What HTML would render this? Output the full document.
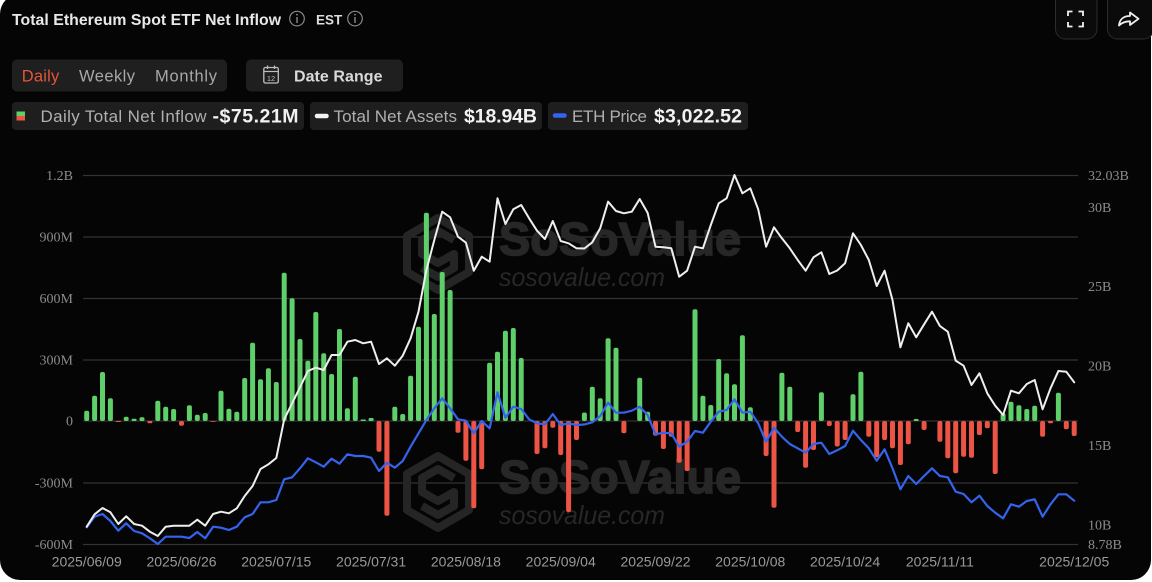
<!DOCTYPE html>
<html><head><meta charset="utf-8"><style>
html,body{margin:0;padding:0;background:#fff;width:1152px;height:582px;overflow:hidden}
svg{display:block}
</style></head><body>
<svg width="1152" height="582" viewBox="0 0 1152 582" xmlns="http://www.w3.org/2000/svg">
<rect x="0" y="0" width="1152" height="582" fill="#fff"/>
<rect x="0" y="-6" width="1151" height="586" rx="20" ry="20" fill="#050505"/>

<!-- header -->
<text x="12" y="25" font-family="Liberation Sans, sans-serif" font-weight="bold" font-size="15.8" fill="#e8e8e8" textLength="269">Total Ethereum Spot ETF Net Inflow</text>
<circle cx="297" cy="18.6" r="7.3" fill="none" stroke="#8a8a8a" stroke-width="1.2"/>
<rect x="296.3" y="17" width="1.4" height="6" fill="#8a8a8a"/><circle cx="297" cy="14.6" r="0.9" fill="#8a8a8a"/>
<text x="316" y="24.5" font-family="Liberation Sans, sans-serif" font-weight="bold" font-size="13.5" fill="#dedede">EST</text>
<circle cx="355" cy="18.6" r="7.3" fill="none" stroke="#8a8a8a" stroke-width="1.2"/>
<rect x="354.3" y="17" width="1.4" height="6" fill="#8a8a8a"/><circle cx="355" cy="14.6" r="0.9" fill="#8a8a8a"/>

<!-- top right buttons -->
<rect x="1055.5" y="-12" width="41.5" height="51" rx="10" fill="#0b0b0b" stroke="#2c2c2c" stroke-width="1"/>
<path d="M1068 16V11.5H1072.5 M1078.5 11.5H1083V16 M1083 22V26.5H1078.5 M1072.5 26.5H1068V22" fill="none" stroke="#f0f0f0" stroke-width="1.8"/>
<rect x="1107.5" y="-12" width="46" height="51" rx="10" fill="#0b0b0b" stroke="#2c2c2c" stroke-width="1"/>
<path d="M1119 25.5C1119.5 19.5 1123.5 16 1130 16V12.5L1138.5 18.8L1130 25V21.3C1125 21.3 1122 22.5 1119 25.5Z" fill="none" stroke="#f0f0f0" stroke-width="1.8" stroke-linejoin="round"/>

<!-- segmented -->
<rect x="12" y="59.5" width="215" height="32" rx="5" fill="#1f1f1f"/>
<text x="21.7" y="81.5" font-family="Liberation Sans, sans-serif" font-size="16.5" fill="#e4553b" textLength="37.5">Daily</text>
<text x="79" y="81.5" font-family="Liberation Sans, sans-serif" font-size="16.5" fill="#a8a8a8" textLength="56">Weekly</text>
<text x="155" y="81.5" font-family="Liberation Sans, sans-serif" font-size="16.5" fill="#a8a8a8" textLength="62">Monthly</text>
<rect x="246" y="59.5" width="157" height="32" rx="5" fill="#1f1f1f"/>
<rect x="263.8" y="67.5" width="14.5" height="15.5" rx="1.5" fill="none" stroke="#bdbdbd" stroke-width="1.3"/>
<line x1="263.8" y1="71.5" x2="278.3" y2="71.5" stroke="#bdbdbd" stroke-width="1.2"/>
<line x1="267.5" y1="65.5" x2="267.5" y2="69" stroke="#bdbdbd" stroke-width="1.3"/>
<line x1="274.5" y1="65.5" x2="274.5" y2="69" stroke="#bdbdbd" stroke-width="1.3"/>
<text x="271" y="81" text-anchor="middle" font-family="Liberation Sans, sans-serif" font-size="7.5" fill="#bdbdbd">12</text>
<text x="294" y="81.5" font-family="Liberation Sans, sans-serif" font-weight="bold" font-size="16" fill="#dadada" textLength="88.5">Date Range</text>

<!-- legend -->
<rect x="12" y="102" width="292" height="28" rx="4" fill="#1e1e1e"/>
<rect x="16.5" y="111.5" width="8.5" height="4.5" fill="#5fcf69"/>
<rect x="16.5" y="116" width="8.5" height="4.5" fill="#ec5446"/>
<text x="40.5" y="122" font-family="Liberation Sans, sans-serif" font-size="17" fill="#b0b0b0" textLength="166">Daily Total Net Inflow</text>
<text x="212.5" y="122.5" font-family="Liberation Sans, sans-serif" font-weight="bold" font-size="19.5" fill="#f2f2f2" textLength="86">-$75.21M</text>
<rect x="310" y="102" width="232" height="28" rx="4" fill="#1e1e1e"/>
<line x1="317" y1="116" x2="326.5" y2="116" stroke="#f2f2f2" stroke-width="4.5" stroke-linecap="round"/>
<text x="333.5" y="122" font-family="Liberation Sans, sans-serif" font-size="17" fill="#b0b0b0" textLength="123.5">Total Net Assets</text>
<text x="464" y="122.5" font-family="Liberation Sans, sans-serif" font-weight="bold" font-size="19.5" fill="#f2f2f2" textLength="73">$18.94B</text>
<rect x="548" y="102" width="200" height="28" rx="4" fill="#1e1e1e"/>
<line x1="555" y1="115.5" x2="564.5" y2="115.5" stroke="#3464ee" stroke-width="4.5" stroke-linecap="round"/>
<text x="572" y="122" font-family="Liberation Sans, sans-serif" font-size="17" fill="#b0b0b0" textLength="75">ETH Price</text>
<text x="654" y="122.5" font-family="Liberation Sans, sans-serif" font-weight="bold" font-size="19.5" fill="#f2f2f2" textLength="88">$3,022.52</text>

<!-- grid -->
<g stroke="#333" stroke-width="1.2">
<line x1="83" y1="175.5" x2="1078" y2="175.5"/>
<line x1="83" y1="237" x2="1078" y2="237"/>
<line x1="83" y1="298.5" x2="1078" y2="298.5"/>
<line x1="83" y1="360" x2="1078" y2="360"/>
<line x1="83" y1="421" x2="1078" y2="421"/>
<line x1="83" y1="483" x2="1078" y2="483"/>
<line x1="83" y1="544.5" x2="1078" y2="544.5"/>
</g>

<!-- watermark -->
<g fill="none" stroke="#252525" stroke-width="8" stroke-linejoin="round">
<polygon points="438,218 469,236 469,272 438,290 407,272 407,236"/>
<path d="M454 240 L438 231 L422 240 L422 254 L438 263 L454 254 L454 268 L438 277 L422 268"/>
<polygon points="438,456 469,474 469,510 438,528 407,510 407,474"/>
<path d="M454 478 L438 469 L422 478 L422 492 L438 501 L454 492 L454 506 L438 515 L422 506"/>
</g>
<g font-family="Liberation Sans, sans-serif" fill="#272727">
<text x="499" y="255" font-weight="bold" font-size="46" stroke="#272727" stroke-width="1.6" textLength="242" lengthAdjust="spacingAndGlyphs">SoSoValue</text>
<text x="499" y="286" font-style="italic" font-size="26" textLength="166" lengthAdjust="spacingAndGlyphs">sosovalue.com</text>
<text x="499" y="493" font-weight="bold" font-size="46" stroke="#272727" stroke-width="1.6" textLength="242" lengthAdjust="spacingAndGlyphs">SoSoValue</text>
<text x="499" y="524" font-style="italic" font-size="26" textLength="166" lengthAdjust="spacingAndGlyphs">sosovalue.com</text>
</g>

<!-- axis labels -->
<g font-family="Liberation Serif, serif" font-size="14" fill="#8c8c8c" text-anchor="end">
<text x="73" y="180">1.2B</text>
<text x="73" y="241.6">900M</text>
<text x="73" y="303.1">600M</text>
<text x="73" y="364.6">300M</text>
<text x="73" y="425.6">0</text>
<text x="73" y="487.6">-300M</text>
<text x="73" y="549.1">-600M</text>
</g>
<g font-family="Liberation Serif, serif" font-size="14" fill="#8c8c8c">
<text x="1088" y="180">32.03B</text>
<text x="1088" y="211.8">30B</text>
<text x="1088" y="291.2">25B</text>
<text x="1088" y="370.6">20B</text>
<text x="1088" y="449.9">15B</text>
<text x="1088" y="529.3">10B</text>
<text x="1088" y="549.1">8.78B</text>
</g>
<g font-family="Liberation Sans, sans-serif" font-size="14" fill="#9a9a9a" text-anchor="middle">
<text x="86.7" y="566.5">2025/06/09</text>
<text x="181.5" y="566.5">2025/06/26</text>
<text x="276.3" y="566.5">2025/07/15</text>
<text x="371.1" y="566.5">2025/07/31</text>
<text x="465.9" y="566.5">2025/08/18</text>
<text x="560.7" y="566.5">2025/09/04</text>
<text x="655.5" y="566.5">2025/09/22</text>
<text x="750.3" y="566.5">2025/10/08</text>
<text x="845.1" y="566.5">2025/10/24</text>
<text x="939.9" y="566.5">2025/11/11</text>
<text x="1074.2" y="566.5">2025/12/05</text>
</g>

<!-- green bars -->
<g fill="#5fcf69">
<rect x="84.2" y="410.7" width="5" height="10.3" rx="2"/>
<rect x="92.1" y="395.7" width="5" height="25.3" rx="2"/>
<rect x="100" y="372" width="5" height="49" rx="2"/>
<rect x="107.9" y="398.3" width="5" height="22.7" rx="2"/>
<rect x="123.7" y="416.7" width="5" height="4.3" rx="2"/>
<rect x="131.6" y="418.7" width="5" height="2.3" rx="1"/>
<rect x="139.5" y="417.3" width="5" height="3.7" rx="1.5"/>
<rect x="155.3" y="400.7" width="5" height="20.3" rx="2"/>
<rect x="163.2" y="406.7" width="5" height="14.3" rx="2"/>
<rect x="171.1" y="409" width="5" height="12" rx="2"/>
<rect x="186.9" y="405.3" width="5" height="15.7" rx="2"/>
<rect x="194.8" y="414.7" width="5" height="6.3" rx="2"/>
<rect x="202.7" y="413" width="5" height="8" rx="2"/>
<rect x="218.5" y="390.7" width="5" height="30.3" rx="2"/>
<rect x="226.4" y="408.7" width="5" height="12.3" rx="2"/>
<rect x="234.3" y="411.7" width="5" height="9.3" rx="2"/>
<rect x="242.2" y="378" width="5" height="43" rx="2"/>
<rect x="250.1" y="342.7" width="5" height="78.3" rx="2"/>
<rect x="258" y="379.3" width="5" height="41.7" rx="2"/>
<rect x="265.9" y="368.3" width="5" height="52.7" rx="2"/>
<rect x="273.8" y="382" width="5" height="39" rx="2"/>
<rect x="281.7" y="272.7" width="5" height="148.3" rx="2"/>
<rect x="289.6" y="298.3" width="5" height="122.7" rx="2"/>
<rect x="297.5" y="339" width="5" height="82" rx="2"/>
<rect x="305.4" y="360.7" width="5" height="60.3" rx="2"/>
<rect x="313.3" y="312" width="5" height="109" rx="2"/>
<rect x="321.2" y="353.3" width="5" height="67.7" rx="2"/>
<rect x="329.1" y="374" width="5" height="47" rx="2"/>
<rect x="337" y="329" width="5" height="92" rx="2"/>
<rect x="344.9" y="408.3" width="5" height="12.7" rx="2"/>
<rect x="352.8" y="376.7" width="5" height="44.3" rx="2"/>
<rect x="360.7" y="419.5" width="5" height="1.5"/>
<rect x="368.6" y="418" width="5" height="3" rx="1"/>
<rect x="392.3" y="406.7" width="5" height="14.3" rx="2"/>
<rect x="400.2" y="414" width="5" height="7" rx="2"/>
<rect x="408.1" y="375.7" width="5" height="45.3" rx="2"/>
<rect x="416" y="326.7" width="5" height="94.3" rx="2"/>
<rect x="423.9" y="212.7" width="5" height="208.3" rx="2"/>
<rect x="431.8" y="314" width="5" height="107" rx="2"/>
<rect x="439.7" y="272" width="5" height="149" rx="2"/>
<rect x="447.6" y="290" width="5" height="131" rx="2"/>
<rect x="487.1" y="362.7" width="5" height="58.3" rx="2"/>
<rect x="495" y="351.7" width="5" height="69.3" rx="2"/>
<rect x="502.9" y="330.7" width="5" height="90.3" rx="2"/>
<rect x="510.8" y="328" width="5" height="93" rx="2"/>
<rect x="518.7" y="358" width="5" height="63" rx="2"/>
<rect x="581.9" y="412.5" width="5" height="8.5" rx="2"/>
<rect x="589.8" y="386.7" width="5" height="34.3" rx="2"/>
<rect x="597.7" y="398.3" width="5" height="22.7" rx="2"/>
<rect x="605.6" y="338.3" width="5" height="82.7" rx="2"/>
<rect x="613.5" y="347.7" width="5" height="73.3" rx="2"/>
<rect x="637.2" y="377.7" width="5" height="43.3" rx="2"/>
<rect x="645.1" y="411.7" width="5" height="9.3" rx="2"/>
<rect x="692.5" y="309.3" width="5" height="111.7" rx="2"/>
<rect x="700.4" y="395.7" width="5" height="25.3" rx="2"/>
<rect x="708.3" y="405" width="5" height="16" rx="2"/>
<rect x="716.2" y="359" width="5" height="62" rx="2"/>
<rect x="724.1" y="373.3" width="5" height="47.7" rx="2"/>
<rect x="732" y="384.3" width="5" height="36.7" rx="2"/>
<rect x="739.9" y="335.3" width="5" height="85.7" rx="2"/>
<rect x="747.8" y="407.3" width="5" height="13.7" rx="2"/>
<rect x="779.4" y="372.7" width="5" height="48.3" rx="2"/>
<rect x="787.3" y="386.7" width="5" height="34.3" rx="2"/>
<rect x="818.9" y="392.3" width="5" height="28.7" rx="2"/>
<rect x="850.5" y="394.3" width="5" height="26.7" rx="2"/>
<rect x="858.4" y="371.7" width="5" height="49.3" rx="2"/>
<rect x="913.7" y="419" width="5" height="2" rx="1"/>
<rect x="1000.6" y="413.3" width="5" height="7.7" rx="2"/>
<rect x="1008.5" y="401.7" width="5" height="19.3" rx="2"/>
<rect x="1016.4" y="405.3" width="5" height="15.7" rx="2"/>
<rect x="1024.3" y="409" width="5" height="12" rx="2"/>
<rect x="1032.2" y="405.7" width="5" height="15.3" rx="2"/>
<rect x="1055.9" y="392.7" width="5" height="28.3" rx="2"/>
</g>

<!-- red bars -->
<g fill="#ec5446">
<rect x="115.8" y="421" width="5" height="1"/>
<rect x="147.4" y="421" width="5" height="2.3" rx="1"/>
<rect x="179" y="421" width="5" height="4.7" rx="2"/>
<rect x="210.6" y="421" width="5" height="0.8"/>
<rect x="376.5" y="421" width="5" height="30.7" rx="2"/>
<rect x="384.4" y="421" width="5" height="94.7" rx="2"/>
<rect x="455.5" y="421" width="5" height="11.7" rx="2"/>
<rect x="463.4" y="421" width="5" height="39.7" rx="2"/>
<rect x="471.3" y="421" width="5" height="87.3" rx="2"/>
<rect x="479.2" y="421" width="5" height="48.3" rx="2"/>
<rect x="534.5" y="421" width="5" height="33" rx="2"/>
<rect x="542.4" y="421" width="5" height="27.3" rx="2"/>
<rect x="550.3" y="421" width="5" height="6.7" rx="2"/>
<rect x="558.2" y="421" width="5" height="34" rx="2"/>
<rect x="566.1" y="421" width="5" height="91" rx="2"/>
<rect x="574" y="421" width="5" height="19" rx="2"/>
<rect x="621.4" y="421" width="5" height="12.3" rx="2"/>
<rect x="653" y="421" width="5" height="14.7" rx="2"/>
<rect x="660.9" y="421" width="5" height="28" rx="2"/>
<rect x="668.8" y="421" width="5" height="15.7" rx="2"/>
<rect x="676.7" y="421" width="5" height="41.7" rx="2"/>
<rect x="684.6" y="421" width="5" height="50" rx="2"/>
<rect x="763.6" y="421" width="5" height="35" rx="2"/>
<rect x="771.5" y="421" width="5" height="86.7" rx="2"/>
<rect x="795.2" y="421" width="5" height="11" rx="2"/>
<rect x="803.1" y="421" width="5" height="46.7" rx="2"/>
<rect x="811" y="421" width="5" height="29" rx="2"/>
<rect x="826.8" y="421" width="5" height="5" rx="2"/>
<rect x="834.7" y="421" width="5" height="25.5" rx="2"/>
<rect x="842.6" y="421" width="5" height="19" rx="2"/>
<rect x="866.3" y="421" width="5" height="15.7" rx="2"/>
<rect x="874.2" y="421" width="5" height="36.3" rx="2"/>
<rect x="882.1" y="421" width="5" height="19" rx="2"/>
<rect x="890" y="421" width="5" height="27.3" rx="2"/>
<rect x="897.9" y="421" width="5" height="44" rx="2"/>
<rect x="905.8" y="421" width="5" height="23.3" rx="2"/>
<rect x="921.6" y="421" width="5" height="9" rx="2"/>
<rect x="937.4" y="421" width="5" height="20.7" rx="2"/>
<rect x="945.3" y="421" width="5" height="37.3" rx="2"/>
<rect x="953.2" y="421" width="5" height="52.3" rx="2"/>
<rect x="961.1" y="421" width="5" height="35.7" rx="2"/>
<rect x="969" y="421" width="5" height="36.7" rx="2"/>
<rect x="976.9" y="421" width="5" height="14" rx="2"/>
<rect x="984.8" y="421" width="5" height="7.3" rx="2"/>
<rect x="992.7" y="421" width="5" height="53" rx="2"/>
<rect x="1040.1" y="421" width="5" height="15.7" rx="2"/>
<rect x="1048" y="421" width="5" height="2.3" rx="1"/>
<rect x="1063.8" y="421" width="5" height="8.3" rx="2"/>
<rect x="1071.7" y="421" width="5" height="15" rx="2"/>
</g>

<!-- ETH price line -->
<polyline fill="none" stroke="#3464ee" stroke-width="2.2" stroke-linejoin="round" stroke-linecap="round" points="86.7,527.3 94.6,516.7 102.5,514 110.4,521 118.3,530.7 126.2,523.3 134.1,531 142,533.3 149.9,538.3 157.8,544 165.7,536.7 173.6,536.7 181.5,536.7 189.4,538 197.3,532 205.2,538.3 213.1,526.7 221,527.7 228.9,530 236.8,526.7 244.7,517.3 252.6,514 260.5,502.3 268.4,502.3 276.3,500 284.2,479.3 292.1,477.3 300,468.3 307.9,458.3 315.8,462.3 323.7,466.7 331.6,458.7 339.5,463.7 347.4,454.3 355.3,456 363.2,456 371.1,457.7 379,471 386.9,462.7 394.8,467.7 402.7,461 410.6,446.7 418.5,433.3 426.4,420 434.3,408.3 442.2,398.3 450.1,408.3 458,419.3 465.9,420.7 473.8,433.3 481.7,421 489.6,428.3 497.5,392.3 505.4,417.7 513.3,406.7 521.2,409 529.1,419.3 537,423.3 544.9,424.3 552.8,414 560.7,425 568.6,423.3 576.5,425 584.4,424.5 592.3,422.3 600.2,416 608.1,402.7 616,412.7 623.9,412.7 631.8,410.7 639.7,406.7 647.6,415 655.5,434.3 663.4,432.7 671.3,433.3 679.2,446.7 687.1,441.7 695,431 702.9,432.7 710.8,421.7 718.7,411.7 726.6,410 734.5,399.3 742.4,412.7 750.3,411.7 758.2,423.3 766.1,441.7 774,427.7 781.9,436.7 789.8,444 797.7,448.3 805.6,452.7 813.5,444 821.4,442.7 829.3,454 837.2,450.3 845.1,446 853,430.7 860.9,440 868.8,448.3 876.7,460.7 884.6,449.3 892.5,468.3 900.4,489.3 908.3,476 916.2,484 924.1,476 932,468.3 939.9,476 947.8,477.3 955.7,491.7 963.6,494 971.5,502.3 979.4,495.7 987.3,506 995.2,512.7 1003.1,518.3 1011,504.3 1018.9,506.7 1026.8,501 1034.7,499.3 1042.6,516.7 1050.5,504.3 1058.4,494.3 1066.3,494.3 1074.2,500.7"/>

<!-- Total net assets line -->
<polyline fill="none" stroke="#efefef" stroke-width="2" stroke-linejoin="round" stroke-linecap="round" points="86.7,526.7 94.6,514.3 102.5,508 110.4,512.3 118.3,524 126.2,516.3 134.1,524 142,525.7 149.9,531.7 157.8,536 165.7,526.7 173.6,525.7 181.5,525.7 189.4,525.7 197.3,519.7 205.2,525.7 213.1,514 221,511.7 228.9,513.3 236.8,508.3 244.7,496 252.6,486 260.5,469 268.4,464.3 276.3,458 284.2,419.3 292.1,403.3 300,387.3 307.9,371 315.8,367.7 323.7,370 331.6,355 339.5,355 347.4,341.7 355.3,340 363.2,343.3 371.1,341.7 379,364 386.9,358.3 394.8,365.7 402.7,355.7 410.6,338.3 418.5,311.7 426.4,270 434.3,240 442.2,211.7 450.1,217.3 458,236.7 465.9,242.7 473.8,270.7 481.7,256.7 489.6,261.7 497.5,198.3 505.4,224 513.3,209.3 521.2,205 529.1,218.3 537,230.7 544.9,239 552.8,221 560.7,241 568.6,243.3 576.5,248.3 584.4,248.5 592.3,242.3 600.2,228.3 608.1,201.7 616,211 623.9,213.3 631.8,211.7 639.7,199 647.6,212.7 655.5,246.7 663.4,247.3 671.3,248.3 679.2,276.7 687.1,270.7 695,246.7 702.9,248.3 710.8,225 718.7,203.3 726.6,198.3 734.5,175 742.4,193.3 750.3,188.3 758.2,209.3 766.1,246.7 774,227.3 781.9,238.3 789.8,248.3 797.7,260 805.6,270.7 813.5,257.3 821.4,252.3 829.3,274 837.2,270.5 845.1,263.3 853,233.3 860.9,245 868.8,260 876.7,286 884.6,270.7 892.5,300 900.4,347.3 908.3,323.3 916.2,337.3 924.1,324.3 932,311.7 939.9,326 947.8,331.7 955.7,360.7 963.6,365.7 971.5,385 979.4,373.3 987.3,393.3 995.2,405.7 1003.1,415 1011,390.7 1018.9,393.3 1026.8,384 1034.7,380 1042.6,409.3 1050.5,388.3 1058.4,371 1066.3,371.7 1074.2,382.3"/>
</svg>
</body></html>
